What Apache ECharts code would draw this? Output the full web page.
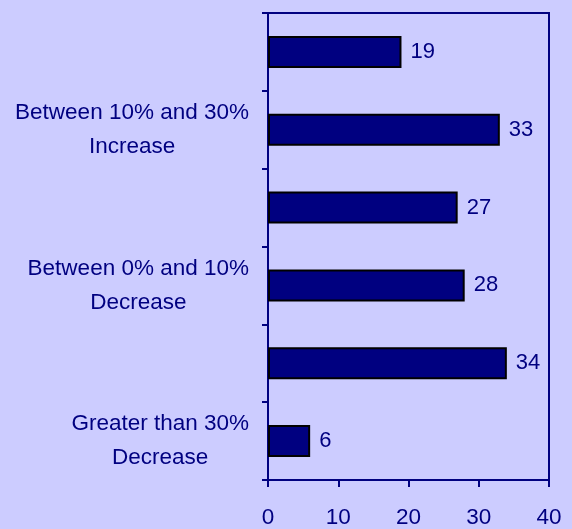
<!DOCTYPE html>
<html>
<head>
<meta charset="utf-8">
<script src="https://cdn.jsdelivr.net/npm/echarts@6/dist/echarts.min.js"></script>
<style>
html,body{margin:0;padding:0;background:#CCCCFF;}
#chart{width:572px;height:529px;}
</style>
</head>
<body>
<div id="chart"></div>
<script>
// categories listed bottom to top
var categories = [
  "Greater than 30%\nDecrease",
  "Between 10% and 30%\nDecrease",
  "Between 0% and 10%\nDecrease",
  "Between 0% and 10%\nIncrease",
  "Between 10% and 30%\nIncrease",
  "Greater than 30%\nIncrease"
];
var values = [6, 34, 28, 27, 33, 19];
var xMin = 0, xMax = 40, xInterval = 10;

var navy = '#000080';
var font = 'Liberation Sans, Arial, sans-serif';
var chart = echarts.init(document.getElementById('chart'), null, {renderer: 'canvas'});
chart.setOption({
  backgroundColor: '#CCCCFF',
  animation: false,
  grid: {
    left: 268, right: 23, top: 13, bottom: 48,
    show: true, borderColor: navy, borderWidth: 2, backgroundColor: 'transparent'
  },
  xAxis: {
    type: 'value', min: xMin, max: xMax, interval: xInterval,
    axisLine: {show: true, lineStyle: {color: navy, width: 2}},
    axisTick: {show: true, length: 7, lineStyle: {color: navy, width: 2}},
    splitLine: {show: false},
    axisLabel: {color: navy, fontFamily: font, fontSize: 22.5, margin: 26}
  },
  yAxis: {
    type: 'category', data: categories,
    axisLine: {show: true, lineStyle: {color: navy, width: 2}},
    axisTick: {show: true, interval: 0, length: 6, lineStyle: {color: navy, width: 2}},
    axisLabel: {
      interval: 1, color: navy, fontFamily: font,
      fontSize: 22.5, lineHeight: 34, margin: 19, align: 'right',
      formatter: function (v) {
        return v.split('\n').map(function (s) { return '{c|' + s + '}'; }).join('\n');
      },
      rich: {
        c: {align: 'center', color: navy, fontFamily: font, fontSize: 22.5, lineHeight: 34}
      }
    }
  },
  series: [{
    type: 'bar', data: values, barWidth: 32,
    itemStyle: {color: navy, borderColor: '#000000', borderWidth: 2},
    label: {
      show: true, position: 'right', distance: 9, color: navy,
      fontFamily: font, fontSize: 22
    }
  }]
});
</script>
</body>
</html>
